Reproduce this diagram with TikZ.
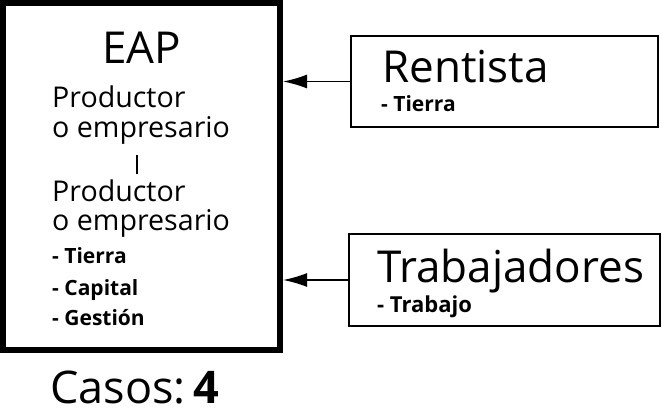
\documentclass[tikz,border=0pt]{standalone}
\usepackage{fontspec}
\setmainfont{Open Sans}
\usetikzlibrary{arrows.meta}
\tikzset{
  txt/.style={inner sep=0pt, anchor=base west},
  thinbox/.style={draw, line width=1.5pt, inner sep=0pt},
  arr/.style={line width=1.5pt, -{Latex[length=24pt,width=14pt]}},
}
\begin{document}
\begin{tikzpicture}[x=1pt,y=-1pt]
\useasboundingbox (0,0) rectangle (662,417);
\node[draw, line width=6pt, minimum width=277pt, minimum height=347pt, inner sep=0pt] (eap) at (141.5,176.5) {};
\node[thinbox, minimum width=307pt, minimum height=91pt] (rent) at (504.5,81.5) {};
\node[thinbox, minimum width=311pt, minimum height=92pt] (trab) at (504.5,280) {};
\node[inner sep=0pt, anchor=base] (eaptitle) at (141.5,64) {\fontsize{44}{44}\selectfont EAP};
\node[txt] (p1) at (52,108) {\fontsize{28.6}{28.6}\selectfont Productor};
\node[txt] (o1) at (52,138) {\fontsize{28.6}{28.6}\selectfont o empresario};
\node[txt] (p2) at (52,202) {\fontsize{28.6}{28.6}\selectfont Productor};
\node[txt] (o2) at (52,230) {\fontsize{28.6}{28.6}\selectfont o empresario};
\node[txt] (t1) at (52,263) {\fontsize{21}{21}\selectfont\bfseries - Tierra};
\node[txt] (c1) at (52,295) {\fontsize{21}{21}\selectfont\bfseries - Capital};
\node[txt] (g1) at (52,325) {\fontsize{21}{21}\selectfont\bfseries - Gestión};
\coordinate (bartop) at (137,155);
\coordinate (barbot) at (137,174);
\draw[line width=1.2pt] (bartop) -- (barbot);
\node[txt] (casos) at (50,403) {\fontsize{45}{45}\selectfont Casos:\hspace{8pt}\bfseries 4};
\node[txt] (rtitle) at (382,83) {\fontsize{44}{44}\selectfont Rentista};
\node[txt] (rsub) at (381,112) {\fontsize{21}{21}\selectfont\bfseries - Tierra};
\node[txt] (ttitle) at (377,282) {\fontsize{44}{44}\selectfont Trabajadores};
\node[txt] (tsub) at (377,312) {\fontsize{22}{22}\selectfont\bfseries - Trabajo};
\draw[arr] (rent.west) -- (rent.west -| eap.east);
\draw[arr] (trab.west) -- (trab.west -| eap.east);
\end{tikzpicture}
\end{document}
